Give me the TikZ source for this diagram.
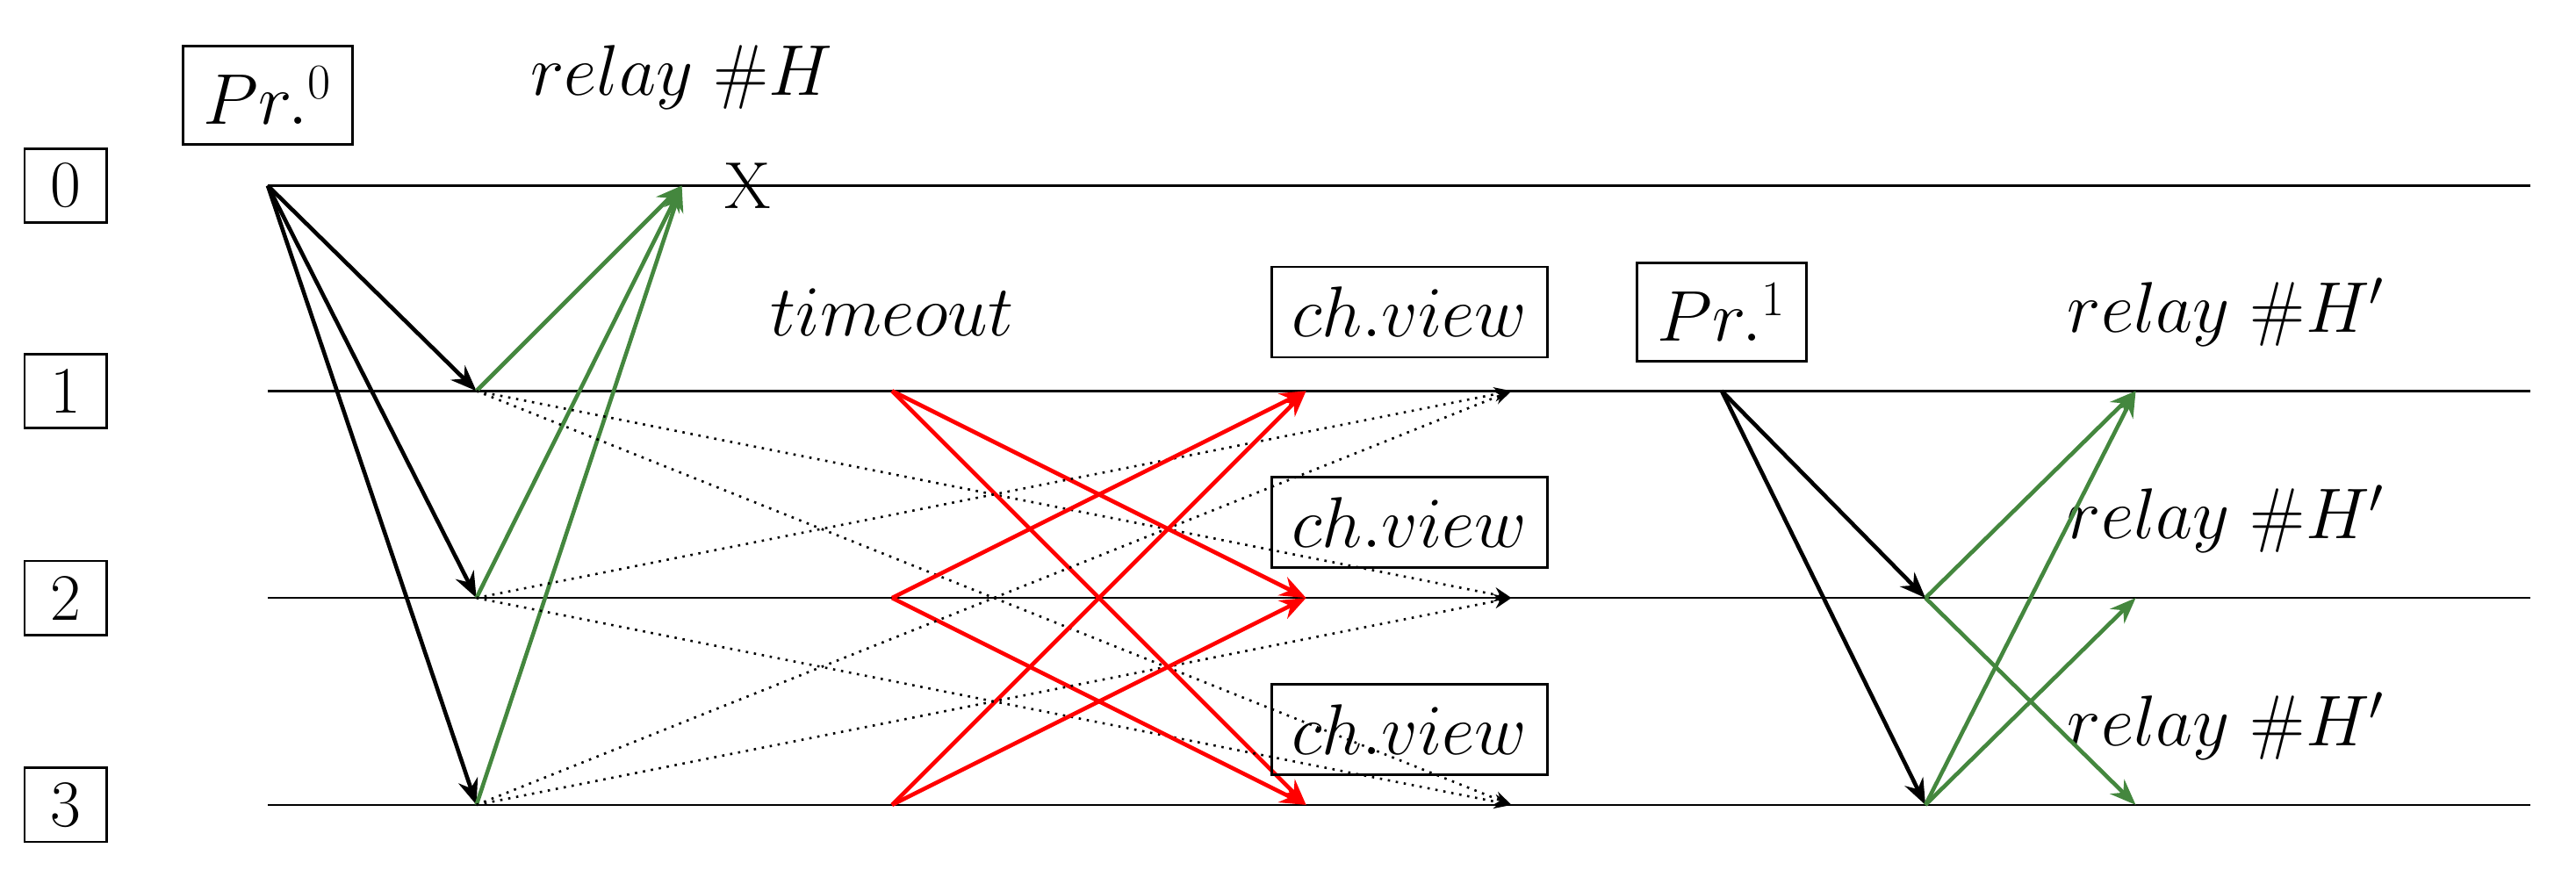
\documentclass[tikz,border=0pt]{standalone}
\usetikzlibrary{arrows.meta}
\begin{document}
\begin{tikzpicture}[x=0.02cm,y=-0.02cm,
  lab/.style={font=\fontsize{23}{28}\selectfont},
  box/.style={draw,thick,lab,inner xsep=7pt,inner ysep=7pt},
  tl/.style={thick},
  ar/.style={-{Stealth[length=9pt,width=7pt]},line width=1.4pt},
  blk/.style={ar,black},
  grn/.style={ar,color={rgb,255:red,68;green,135;blue,62}},
  rd/.style={ar,red},
  dt/.style={dotted,thick,-{Stealth[length=6pt,width=5pt]}}]
\useasboundingbox (0,0) rectangle (1568,538);
\foreach \i/\y in {0/113,1/238,2/364,3/490}{
  \node[box,minimum width=1.0cm,minimum height=0.9cm,inner sep=2pt] (n\i) at (40,\y) {\i};
  \coordinate (L\i) at (163,\y); \coordinate (R\i) at (1540,\y);
  \draw[tl] (L\i) -- (R\i);
  \coordinate (a\i) at (290,\y);
  \coordinate (d\i) at (920,\y);
  \coordinate (t\i) at (543,\y);
  \coordinate (c\i) at (795,\y);
}
\node[box] (p0) at (163,58) {$Pr.^0$};
\node[lab] (rH) at (415,47) {$relay\ \#H$};
\coordinate (g) at (415,113);
\node[lab] (X) at (455,113) {X};
\foreach \i in {1,2,3}{
  \draw[blk] (L0) -- (a\i);
  \draw[grn] (a\i) -- (g);
}
\foreach \i in {1,2,3}{\foreach \j in {1,2,3}{
  \ifnum\i=\j\else
    \draw[dt] (a\i) -- (d\j);
    \draw[rd] (t\i) -- (c\j);
  \fi}}
\node[lab] (to) at (543,190) {$timeout$};
\node[box] (cv1) at (858,190) {$ch.view$};
\node[box] (cv2) at (858,318) {$ch.view$};
\node[box] (cv3) at (858,444) {$ch.view$};
\node[box] (p1) at (1048,190) {$Pr.^1$};
\node[lab] (r1) at (1355,190) {$relay\ \#H'$};
\node[lab] (r2) at (1355,316) {$relay\ \#H'$};
\node[lab] (r3) at (1355,442) {$relay\ \#H'$};
\coordinate (s) at (1048,238);
\coordinate (b2) at (1172,364); \coordinate (b3) at (1172,490);
\coordinate (e1) at (1300,238); \coordinate (e2) at (1300,364); \coordinate (e3) at (1300,490);
\draw[blk] (s) -- (b2); \draw[blk] (s) -- (b3);
\draw[grn] (b2) -- (e1); \draw[grn] (b2) -- (e3);
\draw[grn] (b3) -- (e1); \draw[grn] (b3) -- (e2);
\end{tikzpicture}
\end{document}
